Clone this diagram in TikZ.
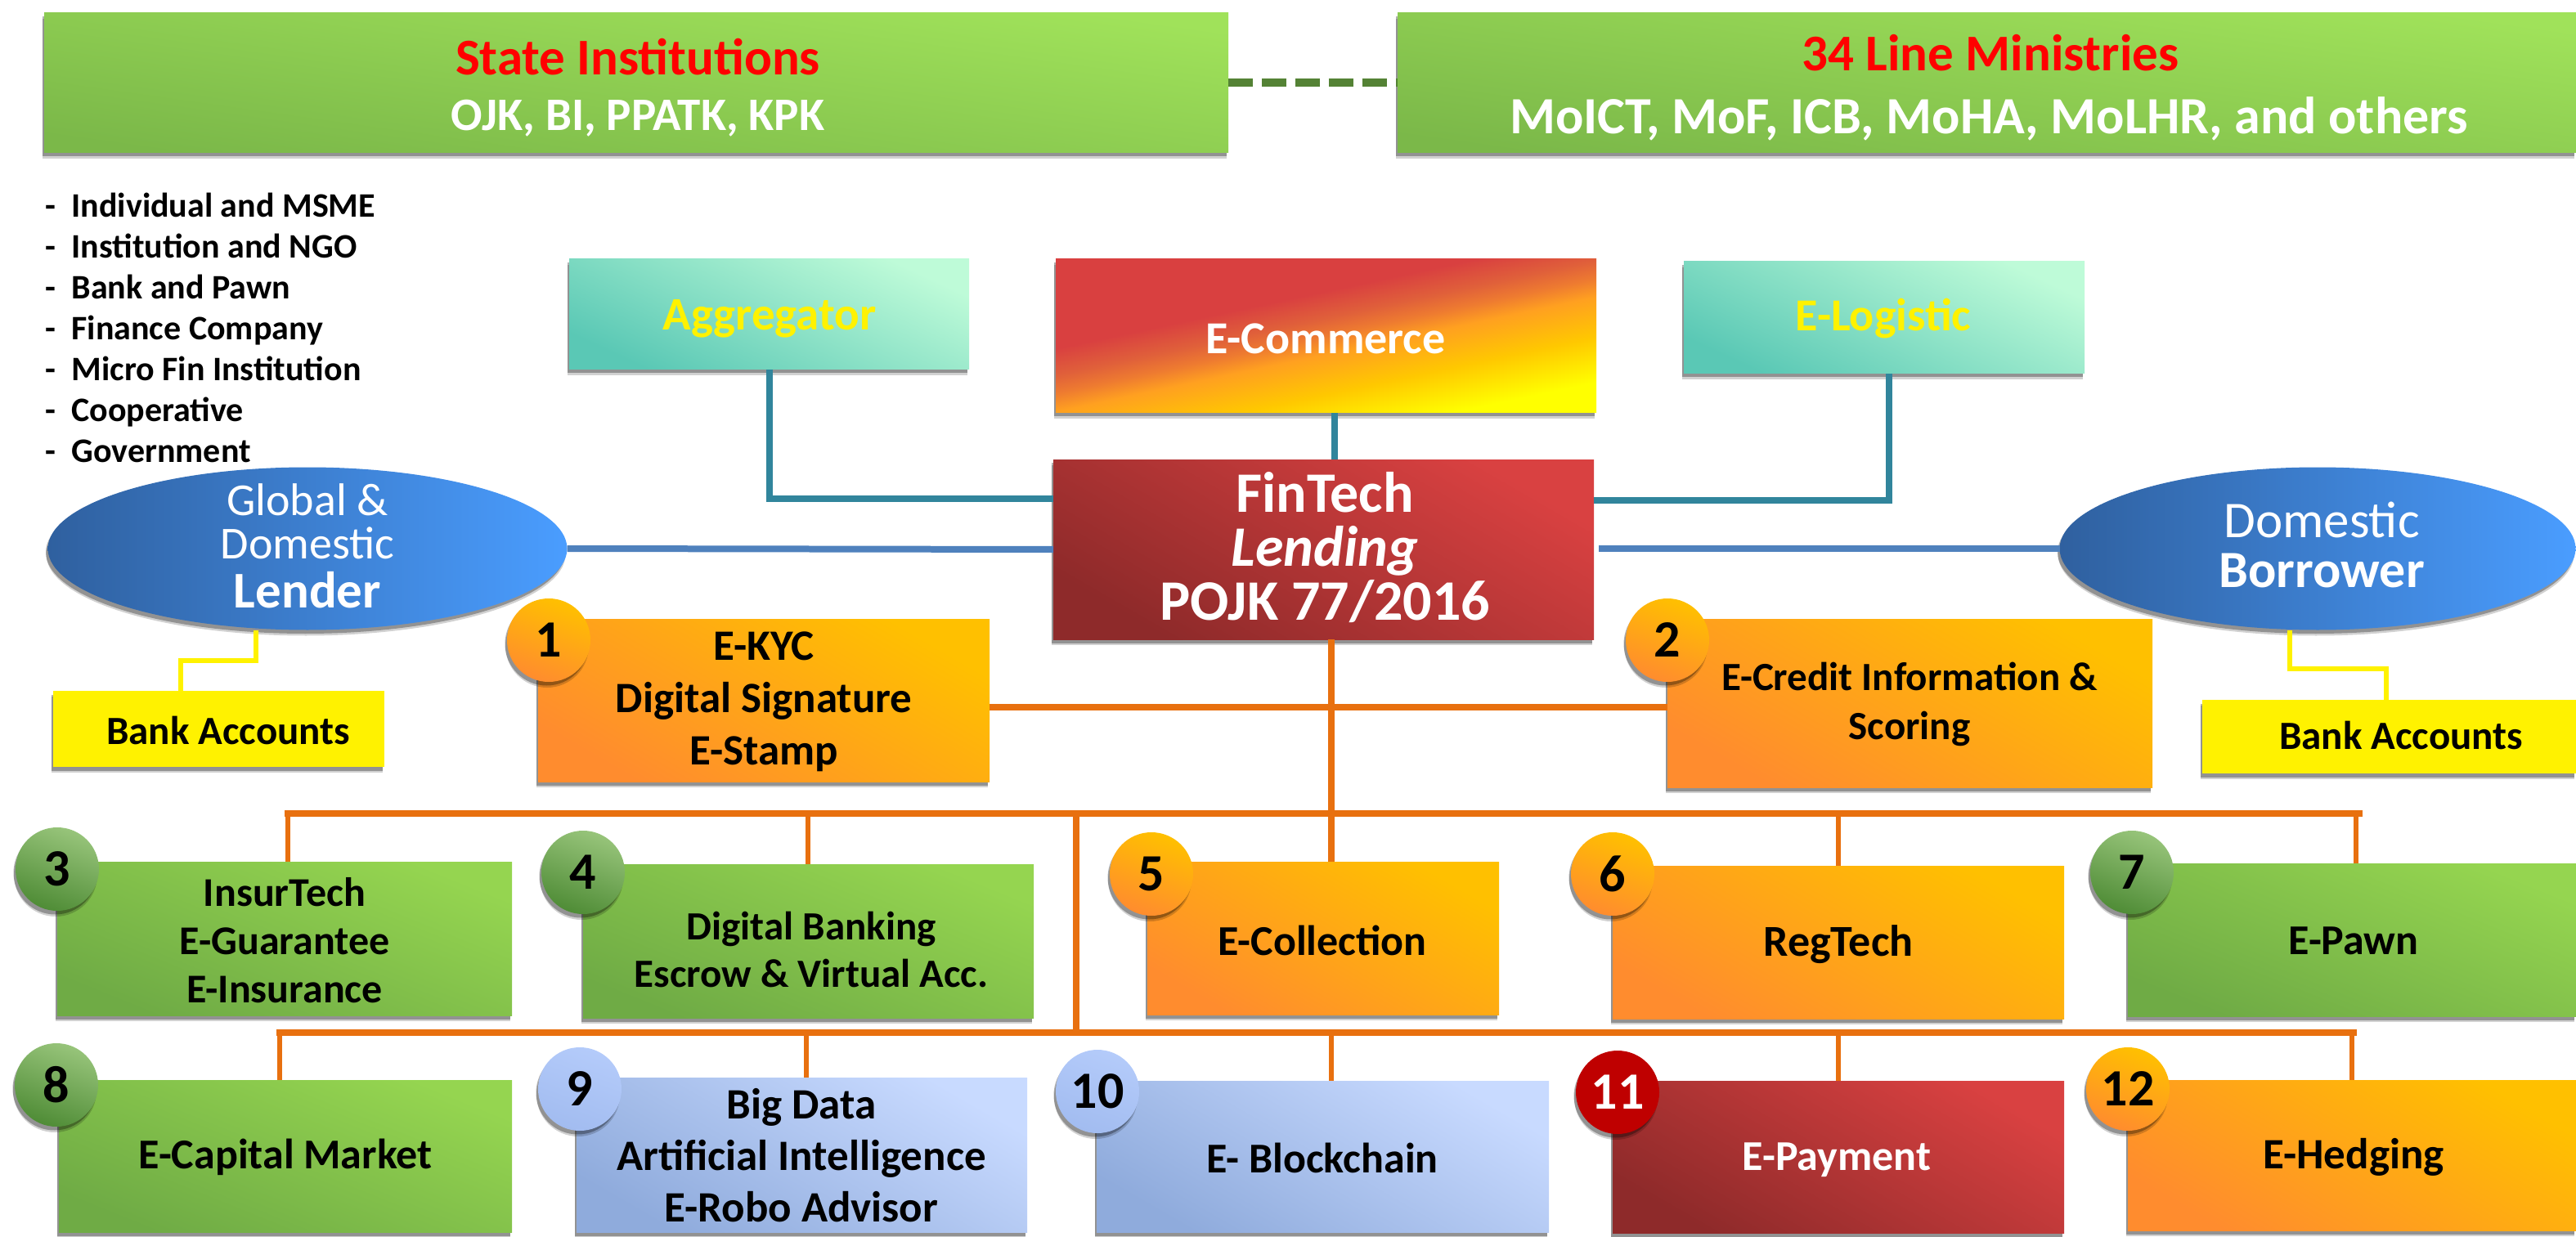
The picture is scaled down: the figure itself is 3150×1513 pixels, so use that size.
\documentclass[tikz,border=0pt]{standalone}
\usepackage{fontspec}
\setmainfont{Carlito}
\usetikzlibrary{shapes.geometric,shadows,calc}
\newcommand\fs[2]{\fontsize{\the\dimexpr#1pt*569/1000\relax}{\the\dimexpr#2pt*569/1000\relax}\selectfont}
\definecolor{grnA}{HTML}{A0E25A}\definecolor{grnB}{HTML}{7BB849}
\definecolor{gboxA}{HTML}{95D550}\definecolor{gboxB}{HTML}{6FAB45}
\definecolor{orgA}{HTML}{FFC000}\definecolor{orgB}{HTML}{FF8C2E}
\definecolor{tealA}{HTML}{BEFBD8}\definecolor{tealM}{HTML}{62D9C1}\definecolor{tealB}{HTML}{5AC8B5}
\definecolor{redA}{HTML}{D94141}\definecolor{redB}{HTML}{8E2A2A}
\definecolor{bluA}{HTML}{C8DAFF}\definecolor{bluB}{HTML}{8FABDC}
\definecolor{ellA}{HTML}{4A9DFF}\definecolor{ellB}{HTML}{2F609F}
\definecolor{cgrnA}{HTML}{97C47A}\definecolor{cgrnB}{HTML}{4F8C36}
\definecolor{cbluA}{HTML}{B4CBFA}\definecolor{cbluB}{HTML}{A2BCF0}
\definecolor{lnTeal}{HTML}{31859C}\definecolor{lnOrg}{HTML}{E8700F}\definecolor{lnBlue}{HTML}{4F81BD}
\definecolor{lnGrn}{HTML}{548235}
\definecolor{ecA}{HTML}{FFFF00}\definecolor{ecB}{HTML}{FFC800}\definecolor{ecD}{HTML}{FFA020}\definecolor{ecM}{HTML}{EE7B30}\definecolor{ecE}{HTML}{E0603A}\definecolor{ecC}{HTML}{D94040}
\pgfdeclareverticalshading{ecommshade}{100bp}{color(0bp)=(ecA);color(27bp)=(ecA);color(37bp)=(ecB);color(46bp)=(ecD);color(50bp)=(ecM);color(54bp)=(ecE);color(60bp)=(ecC);color(100bp)=(ecC)}
\tikzset{
  softshadow/.style={drop shadow={shadow xshift=-0.04cm,shadow yshift=-0.14cm,opacity=.18,fill=black},
                     drop shadow={shadow xshift=-0.05cm,shadow yshift=-0.09cm,opacity=.3,fill=black}},
  base/.style={inner sep=0pt,outer sep=0pt,softshadow},
  grnfill/.style={top color=grnA,bottom color=grnB,shading angle=-8},
  gboxfill/.style={top color=gboxA,bottom color=gboxB,shading angle=-22},
  orgfill/.style={top color=orgA,bottom color=orgB,shading angle=-30},
  tealfill/.style={top color=tealA,middle color=tealM,bottom color=tealB,shading angle=-25},
  redfill/.style={top color=redA,middle color=redA!88!redB,bottom color=redB,shading angle=-30},
  finfill/.style={top color=redA,middle color=redA!95!redB,bottom color=redB,shading angle=-30},
  blufill/.style={top color=bluA,bottom color=bluB,shading angle=-30},
  yelfill/.style={fill=yellow},
  ecfill/.style={shading=ecommshade,shading angle=12},
  ellfill/.style={left color=ellB,right color=ellA},
  cgrn/.style={top color=cgrnA,bottom color=cgrnB,shading angle=-20},
  cblu/.style={top color=cbluA,bottom color=cbluB,shading angle=-20},
  corg/.style={top color=orgA,bottom color=orgB,shading angle=-20},
  cred/.style={fill=red!75!black},
  numcirc/.style={circle,minimum size=102*0.02cm,inner sep=0pt,outer sep=0pt,softshadow,font=\fs{64}{64}\bfseries,text=black},
  bk/.style={inner sep=0pt,text=black,align=center,font=\bfseries},
  wt/.style={inner sep=0pt,text=white,align=center,font=\bfseries},
  tealline/.style={draw=lnTeal,line width=0.15cm},
  blueline/.style={draw=lnBlue,line width=0.16cm},
  orgline/.style={draw=lnOrg,line width=0.16cm},
  yelline/.style={draw=yellow,line width=0.12cm},
  dashline/.style={draw=lnGrn,line width=0.2cm,dash pattern=on 0.6cm off 0.22cm},
}
\newcommand\bx[6]{\node[base,rectangle,minimum width={(#5-#3)*0.02cm},minimum height={(#6-#4)*0.02cm},#2] (#1) at ({(#3+#5)/2},{(#4+#6)/2}) {};}
\begin{document}
\begin{tikzpicture}[x=0.02cm,y=-0.02cm]
\useasboundingbox (0,0) rectangle (3150,1513);
% top row
\bx{state}{grnfill}{54}{16}{1502}{187}
\bx{mins}{grnfill}{1709}{16}{3150}{187}
\node[font=\fs{63}{63}\bfseries,text=red,inner sep=0pt] (t1) at (780,70) {State Institutions};
\node[wt,font=\fs{57}{57}\bfseries] (t2) at (780,145) {OJK, BI, PPATK, KPK};
\node[font=\fs{63}{63}\bfseries,text=red,inner sep=0pt] (t3) at (2434,65) {34 Line Ministries};
\node[wt,font=\fs{64}{64}\bfseries] (t4) at (2432,145) {MoICT, MoF, ICB, MoHA, MoLHR, and others};
% list
\node[inner sep=0pt,anchor=north west,align=left,text=black,font=\fs{42}{50}\bfseries] (lst) at (55,236) {%
-\hspace{11pt}Individual and MSME\\-\hspace{11pt}Institution and NGO\\-\hspace{11pt}Bank and Pawn\\-\hspace{11pt}Finance Company\\-\hspace{11pt}Micro Fin Institution\\-\hspace{11pt}Cooperative\\-\hspace{11pt}Government};
% upper boxes
\bx{agg}{tealfill}{696}{317}{1185}{452}
\bx{ecom}{ecfill}{1291}{317}{1952}{505}
\bx{elog}{tealfill}{2059}{320}{2549}{457}
\node[font=\fs{57}{57}\bfseries,text=yellow,inner sep=0pt] (t5) at (941,390) {Aggregator};
\node[wt,font=\fs{56}{56}\bfseries] (t6) at (1621,414) {E-Commerce};
\node[font=\fs{56}{56}\bfseries,text=yellow,inner sep=0pt] (t7) at (2303,390) {E-Logistic};
% fintech
\bx{fin}{finfill}{1288}{562}{1949}{782}
\node[wt,font=\fs{70}{66}\bfseries] (t8) at (1620,670) {FinTech\\\textit{Lending}\\POJK 77/2016};
% ellipses
\node[ellipse,minimum width=635*0.02cm,minimum height=199*0.02cm,base,ellfill] (ell) at (376,671) {};
\node[ellipse,minimum width=631*0.02cm,minimum height=199*0.02cm,base,ellfill] (elr) at (2834,671) {};
\node[inner sep=0pt,text=white,align=center,font=\fs{56}{53}] (t9) at (376,638) {Global \&\\Domestic};
\node[wt,font=\fs{63}{63}\bfseries] (t10) at (376,722) {Lender};
\node[inner sep=0pt,text=white,font=\fs{63}{63}] (t11) at (2839,636) {Domestic};
\node[wt,font=\fs{64}{64}\bfseries] (t12) at (2839,698) {Borrower};
% bank
\bx{bankl}{yelfill}{65}{845}{470}{938}
\bx{bankr}{yelfill}{2693}{856}{3150}{946}
\node[bk,font=\fs{49}{49}\bfseries] (t13) at (279,893) {Bank Accounts};
\node[bk,font=\fs{49}{49}\bfseries] (t14) at (2936,899) {Bank Accounts};
% boxes
\bx{b1}{orgfill}{658}{757}{1210}{956}
\bx{b2}{orgfill}{2039}{757}{2632}{963}
\bx{b3}{gboxfill}{70}{1054}{626}{1242}
\bx{b4}{gboxfill}{713}{1057}{1264}{1245}
\bx{b5}{orgfill}{1403}{1054}{1833}{1241}
\bx{b6}{orgfill}{1972}{1059}{2524}{1246}
\bx{b7}{gboxfill}{2602}{1056}{3150}{1243}
\bx{b8}{gboxfill}{72}{1321}{626}{1507}
\bx{b9}{blufill}{705}{1318}{1256}{1507}
\bx{b10}{blufill}{1341}{1322}{1894}{1507}
\bx{b11}{redfill}{1972}{1322}{2524}{1508}
\bx{b12}{orgfill}{2602}{1321}{3150}{1505}
% connectors
\draw[dashline] (state) -- (mins);
\coordinate (ta) at (941,610);\coordinate (tb) at (2310,612);\coordinate (tc) at (1632,505);
\draw[tealline] (agg.south -| ta) |- (fin.west |- ta);
\draw[tealline] (elog.south -| tb) |- (fin.east |- tb);
\draw[tealline] (tc) -- (tc |- fin.north);
\draw[blueline] (ell.east) -- (fin.west);
\coordinate (br) at (1955,671);
\draw[blueline] (elr.west) -- (br);
\coordinate (yl1) at (313,808);\coordinate (yl2) at (221,808);
\draw[yelline] (yl1 |- ell.south) -- (yl1) -- (yl2) -- (yl2 |- bankl.north);
\coordinate (yr1) at (2800,818);\coordinate (yr2) at (2918,818);
\draw[yelline] (yr1 |- elr.south) -- (yr1) -- (yr2) -- (yr2 |- bankr.north);
\coordinate (hl) at (1210,865);
\draw[orgline] (b1.east |- hl) -- (b2.west |- hl);
\coordinate (busA) at (1628,995);\coordinate (busB) at (1316,995);\coordinate (busC) at (1316,1263);
\coordinate (a1) at (348,995);\coordinate (a2) at (2889,995);
\coordinate (c1) at (338,1263);\coordinate (c2) at (2882,1263);
\draw[orgline] (fin.south -| busA) -- (busA |- b5.north);
\draw[orgline] (a1) -- (a2);
\draw[orgline] (busB) -- (busC);
\draw[orgline] (c1) -- (c2);
\coordinate (d3) at (352,995);\coordinate (d4) at (988,995);\coordinate (d6) at (2248,995);\coordinate (d7) at (2881,995);
\coordinate (d8) at (342,1263);\coordinate (d9) at (986,1263);\coordinate (d10) at (1628,1263);\coordinate (d11) at (2248,1263);\coordinate (d12) at (2876,1263);
\foreach \p/\q in {d3/b3,d4/b4,d6/b6,d7/b7,d8/b8,d9/b9,d10/b10,d11/b11,d12/b12}{\draw[draw=lnOrg,line width=0.13cm] (\p) -- (\p |- \q.north);}
% box texts
\node[bk,font=\fs{53}{64}\bfseries] (x1) at (934,858) {E-KYC\\Digital Signature\\E-Stamp};
\node[bk,font=\fs{49}{60}\bfseries] (x2) at (2335,861) {E-Credit Information \&\\Scoring};
\node[bk,font=\fs{50}{59}\bfseries] (x3) at (348,1150) {InsurTech\\E-Guarantee\\E-Insurance};
\node[bk,font=\fs{49}{58}\bfseries] (x4) at (992,1161) {Digital Banking\\Escrow \& Virtual Acc.};
\node[bk,font=\fs{52}{52}\bfseries] (x5) at (1617,1150) {E-Collection};
\node[bk,font=\fs{54}{54}\bfseries] (x6) at (2248,1155) {RegTech};
\node[bk,font=\fs{52}{52}\bfseries] (x7) at (2878,1151) {E-Pawn};
\node[bk,font=\fs{52}{52}\bfseries] (x8) at (349,1415) {E-Capital Market};
\node[bk,font=\fs{53}{63}\bfseries] (x9) at (980,1413) {Big Data\\Artificial Intelligence\\E-Robo Advisor};
\node[bk,font=\fs{52}{52}\bfseries] (x10) at (1617,1416) {E- Blockchain};
\node[wt,font=\fs{52}{52}\bfseries] (x11) at (2246,1419) {E-Payment};
\node[bk,font=\fs{53}{53}\bfseries] (x12) at (2878,1415) {E-Hedging};
% number circles
\node[numcirc,corg] (n1) at (671,783) {1};
\node[numcirc,corg] (n2) at (2039,783) {2};
\node[numcirc,cgrn] (n3) at (70,1063) {3};
\node[numcirc,cgrn] (n4) at (713,1067) {4};
\node[numcirc,corg] (n5) at (1408,1069) {5};
\node[numcirc,corg] (n6) at (1972,1069) {6};
\node[numcirc,cgrn] (n7) at (2607,1067) {7};
\node[numcirc,cgrn] (n8) at (69,1327) {8};
\node[numcirc,cblu] (n9) at (709,1332) {9};
\node[numcirc,cblu] (n10) at (1342,1335) {10};
\node[numcirc,cred,text=white] (n11) at (1978,1336) {11};
\node[numcirc,corg] (n12) at (2602,1332) {12};
\end{tikzpicture}
\end{document}
